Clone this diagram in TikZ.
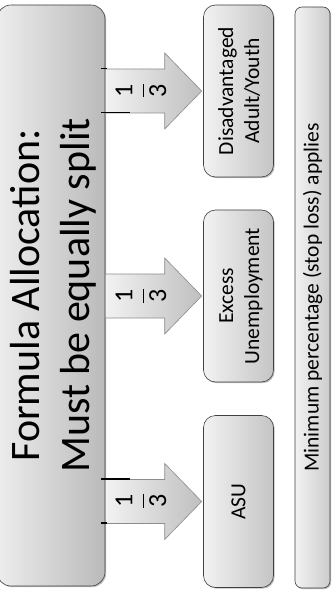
\documentclass[tikz,border=0pt]{standalone}
\usepackage{fontspec}
\setmainfont{Carlito}
\usepackage{graphicx}
\usetikzlibrary{calc,shadows}
\newcommand\vtext[1]{\rotatebox{90}{\begin{tabular}{@{}c@{}}#1\end{tabular}}}
\newcommand\blkarrow[1]{%
  \path let \p1=(main.east), \p2=(#1.west) in [arrowshape]
    (\x1,\y2+22pt) -- (\x2-38.5pt,\y2+22pt) -- (\x2-38.5pt,\y2+38pt) --
    (\x2-1.5pt,\y2) -- (\x2-38.5pt,\y2-38pt) -- (\x2-38.5pt,\y2-22pt) --
    (\x1,\y2-22pt) -- cycle;}
\tikzset{
  x=1pt, y=-1pt,
  softshadow/.style={drop shadow={shadow xshift=1.2pt, shadow yshift=-1.2pt, opacity=0.25, fill=black}},
  bigbox/.style={draw=black!75, line width=0.6pt, rounded corners=14pt,
    left color=black!7, right color=black!27, inner sep=0pt, softshadow,
    font=\fontsize{42}{50}\selectfont},
  smallbox/.style={draw=black!75, line width=0.6pt, rounded corners=12pt,
    left color=black!5, right color=black!23, inner sep=0pt, softshadow,
    minimum width=70pt, minimum height=172pt, font=\fontsize{21.5}{26}\selectfont},
  longbox/.style={draw=black!75, line width=0.6pt, rounded corners=7pt,
    left color=black!5, right color=black!20, inner sep=0pt, softshadow,
    minimum width=35pt, minimum height=581pt, font=\fontsize{21.5}{26}\selectfont},
  arrowshape/.style={draw=black!45, line width=0.6pt, left color=black!5, right color=black!25},
  fracnode/.style={rotate=90, inner sep=0pt, font=\fontsize{26}{30}\selectfont},
  blackseg/.style={draw=black, line width=1.5pt}
}
\begin{document}
\begin{tikzpicture}
\useasboundingbox (0,0) rectangle (332,593);
\node[bigbox, minimum width=100pt, minimum height=581pt] (main) at (51,295.5)
  {\vtext{\rule{0pt}{43pt}Formula Allocation:\\Must be equally split}};
\node[smallbox] (dis) at (238.5,91) {\vtext{\rule{0pt}{23pt}Disadvantaged\\Adult/Youth}};
\node[smallbox] (exc) at (238.5,296) {\vtext{\rule{0pt}{23pt}Excess\\Unemployment}};
\node[smallbox] (asu) at (238.5,501.5) {\rotatebox{90}{ASU}};
\node[longbox] (minp) at (312.5,297.5) {\rotatebox{90}{Minimum percentage (stop loss) applies}};
\blkarrow{dis}
\blkarrow{exc}
\blkarrow{asu}
\node[fracnode] (f1) at (141,90.5) {$\displaystyle\frac{\hbox{1}}{\hbox{3}}$};
\node[fracnode] (f2) at (141,296) {$\displaystyle\frac{\hbox{1}}{\hbox{3}}$};
\node[fracnode] (f3) at (141,501) {$\displaystyle\frac{\hbox{1}}{\hbox{3}}$};
\draw[blackseg] (101,68.5) -- (107,68.5);
\draw[blackseg] (101,112.5) -- (130,112.5);
\draw[blackseg] (101,479) -- (130,479);
\draw[blackseg] (101,523) -- (107,523);
\end{tikzpicture}
\end{document}
